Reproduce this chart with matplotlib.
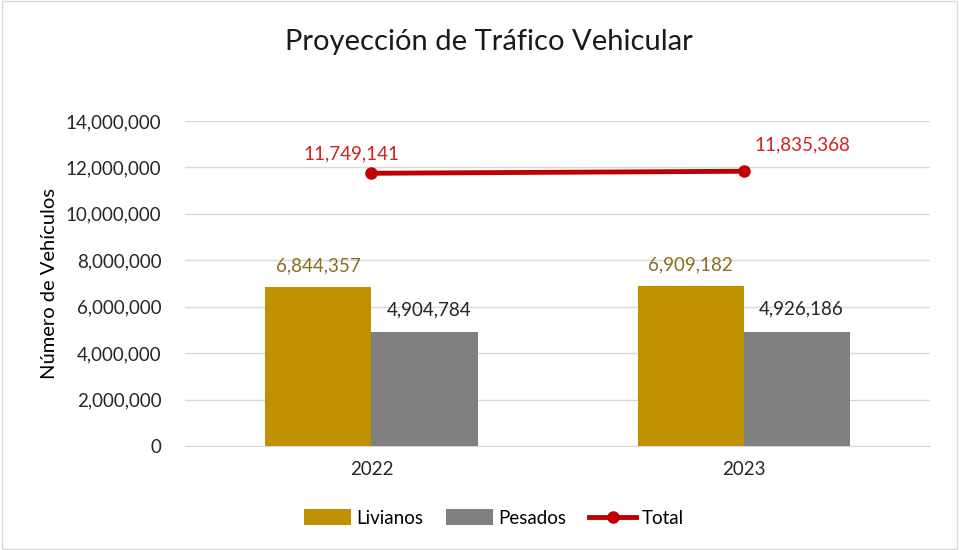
import matplotlib.pyplot as plt
import numpy as np
from matplotlib.patches import Rectangle

years = ['2022', '2023']
livianos = [6844357, 6909182]
pesados = [4904784, 4926186]
total = [11749141, 11835368]

# label offsets for the Total line (points)
total_offsets = [(-14, 14), (42, 19)]


def fmt(v):
    return f'{v:,.0f}'


def main():
    plt.rcParams['font.family'] = ['Lato', 'DejaVu Sans']

    fig = plt.figure(figsize=(9.59, 5.5), dpi=100)
    ax = fig.add_axes([0.193, 0.189, 0.777, 0.591])

    x = np.arange(len(years))
    w = 0.285
    fs = 13.5
    b1 = ax.bar(x - w / 2, livianos, w, color='#BF9000', label='Livianos', zorder=3)
    b2 = ax.bar(x + w / 2, pesados, w, color='#7F7F7F', label='Pesados', zorder=3)
    ln, = ax.plot(x, total, color='#C00000', lw=3.5, marker='o', ms=8, label='Total', zorder=4)

    for r, v in zip(b1, livianos):
        ax.annotate(fmt(v), (r.get_x() + r.get_width() / 2, v), xytext=(0, 9),
                    textcoords='offset points', ha='center', va='bottom',
                    fontsize=fs, color='#8C6D1F')
    for r, v in zip(b2, pesados):
        ax.annotate(fmt(v), (r.get_x() + r.get_width() / 2, v), xytext=(3, 10),
                    textcoords='offset points', ha='center', va='bottom',
                    fontsize=fs, color='#262626')
    for xi, v, off in zip(x, total, total_offsets):
        ax.annotate(fmt(v), (xi, v), xytext=off, textcoords='offset points',
                    ha='center', va='center', fontsize=fs, color='#D42020')

    ax.set_xlim(-0.5, 1.5)
    ax.set_ylim(0, 14000000)
    ax.set_yticks(np.arange(0, 14000001, 2000000))
    ax.yaxis.set_major_formatter(plt.FuncFormatter(lambda v, p: fmt(v)))
    ax.set_xticks(x)
    ax.set_xticklabels(years)
    ax.tick_params(length=0, labelsize=fs, colors='#262626')
    ax.tick_params(axis='x', pad=11)
    ax.tick_params(axis='y', pad=17)
    ax.grid(axis='y', color='#D9D9D9', lw=1, zorder=0)
    for s in ['top', 'right', 'left']:
        ax.spines[s].set_visible(False)
    ax.spines['bottom'].set_color('#D9D9D9')

    ax.set_ylabel('Número de Vehículos', fontsize=14.5, color='#000000', labelpad=6)
    fig.text(0.51, 0.923, 'Proyección de Tráfico Vehicular', ha='center', va='center',
             fontsize=21, color='#1a1a1a')

    fig.legend([b1, b2, ln], ['Livianos', 'Pesados', 'Total'],
               loc='center', bbox_to_anchor=(0.515, 0.058), ncol=3, frameon=False,
               fontsize=fs, handlelength=2.5, handleheight=0.9, columnspacing=1.2,
               handletextpad=0.3)

    fig.patches.append(Rectangle((0.002, 0.002), 0.996, 0.996, transform=fig.transFigure,
                                 fill=False, edgecolor='#D9D9D9', lw=1))

    fig.savefig('out.png', dpi=100)


if __name__ == "__main__":
    main()
